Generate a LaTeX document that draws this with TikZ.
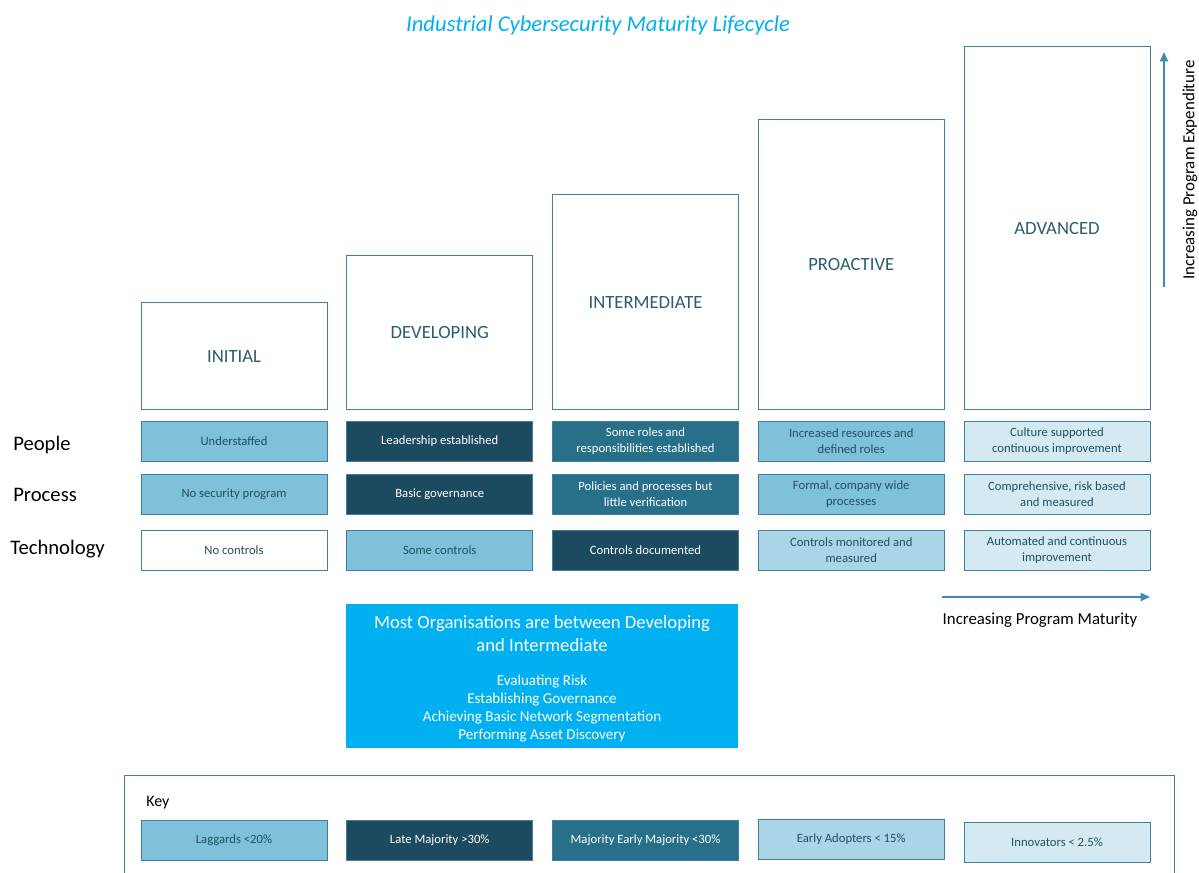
\documentclass[tikz,border=0pt]{standalone}
\usepackage{fontspec}
\setmainfont{Carlito}
\usetikzlibrary{arrows.meta}
\definecolor{stageline}{HTML}{41809B}
\definecolor{stagetext}{HTML}{2B5C72}
\definecolor{celltext}{HTML}{234F63}
\definecolor{lightblue}{HTML}{7FC0DB}
\definecolor{navy}{HTML}{1C4A5E}
\definecolor{midteal}{HTML}{286F8A}
\definecolor{paleblue}{HTML}{A9D5E7}
\definecolor{iceblue}{HTML}{D4EAF3}
\definecolor{cyanbox}{HTML}{00B0F0}
\definecolor{arrowblue}{HTML}{3A8DB5}
\def\colsep{205.75}

\begin{document}
\begin{tikzpicture}[x=0.75pt, y=-0.75pt]
  \tikzstyle{stage}=[draw=stageline, line width=0.65pt, minimum width=139.5pt, anchor=south, text=stagetext, font=\fontsize{14}{16}\selectfont]
  \tikzstyle{cell}=[draw=stageline, line width=0.65pt, minimum width=139.5pt, minimum height=30pt, inner sep=1pt, align=center, font=\fontsize{9.5}{12}\selectfont]
  \tikzstyle{lightcell}=[cell, fill=lightblue, text=celltext]
  \tikzstyle{darkcell}=[cell, fill=navy, text=white]
  \tikzstyle{tealcell}=[cell, fill=midteal, text=white]
  \tikzstyle{palecell}=[cell, fill=paleblue, text=celltext]
  \tikzstyle{icecell}=[cell, fill=iceblue, text=celltext]
  \tikzstyle{whitecell}=[cell, fill=white, text=celltext]
  \tikzstyle{rowlabel}=[anchor=west, inner sep=0pt, font=\fontsize{15.5}{18}\selectfont]
  \tikzstyle{growth}=[-{Triangle[length=7pt, width=6pt]}, draw=arrowblue, line width=1.5pt]

  \useasboundingbox (0,0) rectangle (1199,873);

  \node[text=cyanbox, font=\fontsize{17}{20}\selectfont\itshape] (title) at (598,25) {Industrial Cybersecurity Maturity Lifecycle};

  % stages
  \foreach \name/\h [count=\i] in {INITIAL/107, DEVELOPING/154, INTERMEDIATE/215, PROACTIVE/290, ADVANCED/363}
    \node[stage, minimum height=\h*0.75pt] (S-\i) at ({234+\colsep*(\i-1)},410) {\name};

  % rows
  \node[rowlabel] (L-people) at (13,445) {People};
  \node[rowlabel] (L-process) at (13,495) {Process};
  \node[rowlabel] (L-tech) at (10,549) {Technology};

  \foreach \style/\txt [count=\i] in {lightcell/Understaffed, darkcell/Leadership established, tealcell/{Some roles and\\responsibilities established}, lightcell/{Increased resources and\\defined roles}, icecell/{Culture supported\\continuous improvement}}
    \node[\style] (people-\i) at ({234+\colsep*(\i-1)},441) {\txt};

  \foreach \style/\txt [count=\i] in {lightcell/No security program, darkcell/Basic governance, tealcell/{Policies and processes but\\little verification}, lightcell/{Formal, company wide\\processes}, icecell/{Comprehensive, risk based\\and measured}}
    \node[\style] (process-\i) at ({234+\colsep*(\i-1)},494.5) {\txt};

  \foreach \style/\txt [count=\i] in {whitecell/No controls, lightcell/Some controls, darkcell/Controls documented, palecell/{Controls monitored and\\measured}, icecell/{Automated and continuous\\improvement}}
    \node[\style] (tech-\i) at ({234+\colsep*(\i-1)},550) {\txt};

  % focus box
  \node[fill=cyanbox, minimum width=294pt, minimum height=108pt] (focus) at (542,676) {};
  \node[text=white, align=center, font=\fontsize{14}{17}\selectfont] (focus-head) at (542,633.5) {Most Organisations are between Developing\\and Intermediate};
  \node[text=white, align=center, font=\fontsize{11.3}{13.5}\selectfont] (focus-list) at (542,709) {Evaluating Risk\\Establishing Governance\\Achieving Basic Network Segmentation\\Performing Asset Discovery};

  % axes
  \coordinate (mat-start) at (942,597);
  \coordinate (mat-end) at (1150,597);
  \draw[growth] (mat-start) -- (mat-end);
  \node[font=\fontsize{12.6}{14}\selectfont] (mat-label) at (1040,620) {Increasing Program Maturity};

  \coordinate (exp-start) at (1164,287);
  \coordinate (exp-end) at (1164,52);
  \draw[growth] (exp-start) -- (exp-end);
  \node[rotate=90, font=\fontsize{12.7}{14}\selectfont] (exp-label) at (1190,170) {Increasing Program Expenditure};

  % key
  \draw[stageline, line width=0.65pt] (124,775) rectangle (1174,900);
  \node[anchor=west, inner sep=0pt, font=\fontsize{12}{14}\selectfont] (key) at (146,803) {Key};
  \foreach \style/\txt/\y [count=\i] in {lightcell/Laggards <20\%/840.5, darkcell/Late Majority >30\%/840.5, tealcell/Majority Early Majority <30\%/840.5, palecell/Early Adopters < 15\%/839, icecell/Innovators < 2.5\%/842.5}
    \node[\style] (key-\i) at ({234+\colsep*(\i-1)},\y) {\txt};
\end{tikzpicture}
\end{document}
